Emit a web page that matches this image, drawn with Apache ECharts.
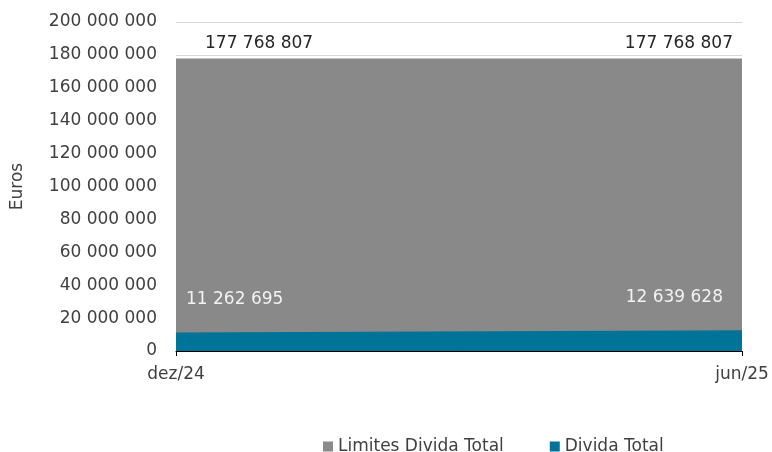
<!DOCTYPE html>
<html>
<head>
<meta charset="utf-8">
<script src="https://cdn.jsdelivr.net/npm/echarts@6/dist/echarts.min.js"></script>
<style>
  html, body { margin: 0; padding: 0; background: #fff; }
  #chart { width: 772px; height: 452px; }
</style>
</head>
<body>
<div id="chart"></div>
<script>
const categories = ['dez/24', 'jun/25'];
const limitesDivida = [177768807, 177768807];
const dividaTotal = [11262695, 12639628];

const fontFam = '"DejaVu Sans", sans-serif';
const fs = 17;

function fmt(v) {
  return String(Math.round(v)).replace(/\B(?=(\d{3})+(?!\d))/g, ' ');
}

const chart = echarts.init(document.getElementById('chart'), null, { renderer: 'canvas' });

const opt = {
  animation: false,
  textStyle: { fontFamily: fontFam },
  grid: { left: 176, right: 30, top: 22, bottom: 101 },
  legend: {
    top: 433,
    left: 318,
    itemWidth: 10,
    itemHeight: 10,
    itemGap: 46,
    icon: 'rect',
    textStyle: { fontSize: fs, color: '#404040', fontFamily: fontFam },
    data: ['Limites Divida Total', 'Divida Total']
  },
  xAxis: {
    type: 'category',
    boundaryGap: false,
    data: categories,
    axisLine: { lineStyle: { color: '#000', width: 1 } },
    axisTick: { show: true, length: 5, lineStyle: { color: '#000' } },
    axisLabel: { fontSize: fs, color: '#404040', margin: 15, fontFamily: fontFam }
  },
  yAxis: {
    type: 'value',
    min: 0,
    max: 200000000,
    interval: 20000000,
    name: 'Euros',
    nameLocation: 'middle',
    nameGap: 150,
    nameRotate: 90,
    nameTextStyle: { fontSize: fs, color: '#404040', fontFamily: fontFam },
    axisLine: { show: false },
    axisTick: { show: false },
    splitLine: { lineStyle: { color: '#d9d9d9', width: 1 } },
    axisLabel: {
      fontSize: fs, color: '#404040', margin: 19, fontFamily: fontFam,
      formatter: (v) => fmt(v)
    }
  },
  series: [
    {
      name: 'Limites Divida Total',
      type: 'line',
      data: [
        { value: limitesDivida[0], label: { align: 'left', offset: [29, 0] } },
        { value: limitesDivida[1], label: { align: 'right', offset: [-9, 0] } }
      ],
      symbol: 'circle',
      symbolSize: 0,
      showSymbol: true,
      lineStyle: { width: 0 },
      itemStyle: { color: '#898989' },
      areaStyle: { color: '#898989', opacity: 1 },
      label: {
        show: true, position: 'top', distance: 6,
        fontSize: fs, color: '#262626', fontFamily: fontFam,
        formatter: (p) => fmt(p.value)
      }
    },
    {
      name: 'Divida Total',
      type: 'line',
      data: [
        { value: dividaTotal[0], label: { align: 'left', offset: [10, 0] } },
        { value: dividaTotal[1], label: { align: 'right', offset: [-19, 0] } }
      ],
      symbol: 'circle',
      symbolSize: 0,
      showSymbol: true,
      lineStyle: { width: 0 },
      itemStyle: { color: '#007398' },
      areaStyle: { color: '#007398', opacity: 1 },
      label: {
        show: true, position: 'top', distance: 24,
        fontSize: fs, color: '#f2f2f2', fontFamily: fontFam,
        formatter: (p) => fmt(p.value)
      }
    }
  ]
};

chart.setOption(opt);
</script>
</body>
</html>
